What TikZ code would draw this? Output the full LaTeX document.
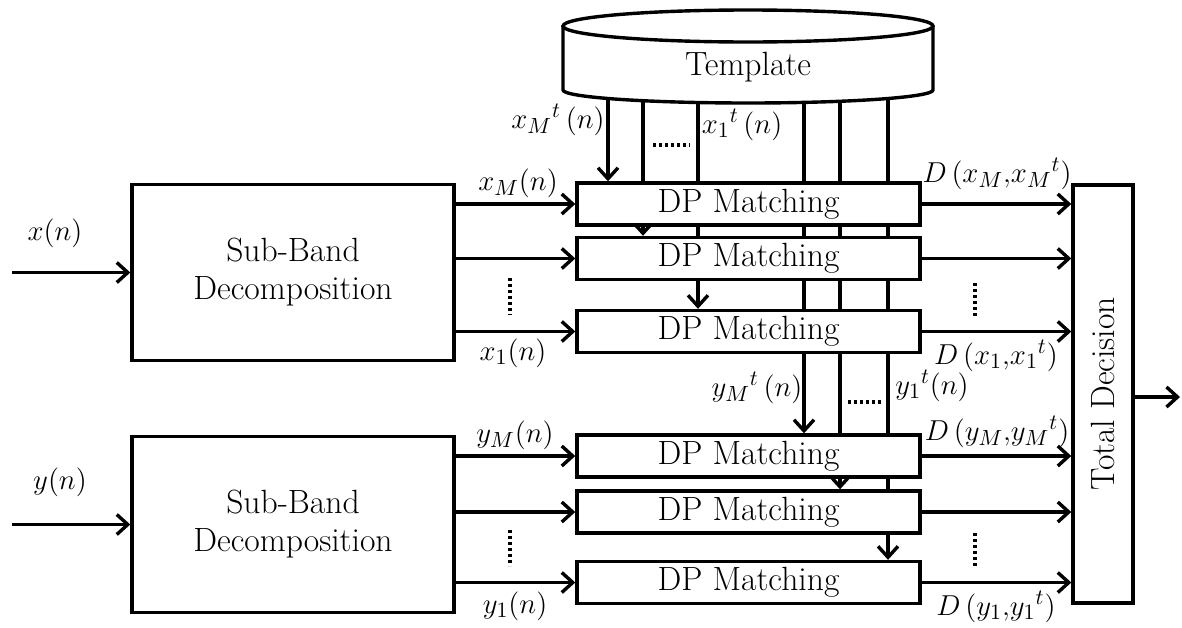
\documentclass[tikz,border=0pt]{standalone}
\usepackage{amsmath}
\usetikzlibrary{positioning,arrows.meta,backgrounds}

\begin{document}
\begin{tikzpicture}[x=0.5pt,y=0.5pt,
  every node/.style={font=\fontsize{16.8}{19}\selectfont},
  lbl/.style={font=\fontsize{15}{18}\selectfont,inner sep=1pt},
  blk/.style={draw,fill=white,line width=1.7pt,inner sep=0pt},
  dpbox/.style={blk,minimum width=171.5pt,minimum height=21pt},
  sbbox/.style={blk,minimum width=161pt,minimum height=88pt,align=center},
  sig/.style={line width=1.7pt,-{Straight Barb[length=5.5pt,width=10pt]}},
  dots/.style={line width=2pt,dash pattern=on 1.6pt off 1.4pt}]
\useasboundingbox (0,0) rectangle (1182,-627);

% template store
\draw[blk] (563,-26) -- (563,-90)
   arc[start angle=180,end angle=360,x radius=185,y radius=13] -- (933,-26);
\draw[blk] (748,-26) ellipse[x radius=185,y radius=16];
\node (tmpl) at (748,-67) {Template};

% blocks
\node[sbbox] (sb1) at (293,-272.5) {Sub-Band\\Decomposition};
\node[sbbox] (sb2) at (293,-524.5) {Sub-Band\\Decomposition};

\node[dpbox] (dp1) at (748.5,-204) {DP Matching};
\node[dpbox] (dp2) at (748.5,-258.5) {DP Matching};
\node[dpbox] (dp3) at (748.5,-331.5) {DP Matching};
\node[dpbox] (dp4) at (748.5,-456) {DP Matching};
\node[dpbox] (dp5) at (748.5,-512) {DP Matching};
\node[dpbox] (dp6) at (748.5,-582.5) {DP Matching};

\node[blk,minimum width=30pt,minimum height=209pt] (td) at (1103,-394) {};
\node[rotate=90] (tdtext) at (td.center) {Total Decision};

% template taps, behind the boxes
\coordinate (t1) at (608,-60);
\coordinate (t2) at (643,-60);
\coordinate (t3) at (698,-60);
\coordinate (t4) at (804,-60);
\coordinate (t5) at (840,-60);
\coordinate (t6) at (888,-60);
\begin{scope}[on background layer]
  \draw[sig] (t1) -- (t1 |- dp1.north);
  \draw[sig] (t2) -- (t2 |- dp2.north);
  \draw[sig] (t3) -- (t3 |- dp3.north);
  \draw[sig] (t4) -- (t4 |- dp4.north);
  \draw[sig] (t5) -- (t5 |- dp5.north);
  \draw[sig] (t6) -- (t6 |- dp6.north);
\end{scope}

% inputs
\coordinate (xin) at (12,-272.5);
\coordinate (yin) at (12,-524.5);
\draw[sig] (xin) -- (sb1.west);
\draw[sig] (yin) -- (sb2.west);

% sub-bands
\draw[sig] (sb1.east |- dp1.west) -- (dp1.west);
\draw[sig] (sb1.east |- dp2.west) -- (dp2.west);
\draw[sig] (sb1.east |- dp3.west) -- (dp3.west);
\draw[sig] (sb2.east |- dp4.west) -- (dp4.west);
\draw[sig] (sb2.east |- dp5.west) -- (dp5.west);
\draw[sig] (sb2.east |- dp6.west) -- (dp6.west);

% distances
\draw[sig] (dp1.east) -- (dp1.east -| td.west);
\draw[sig] (dp2.east) -- (dp2.east -| td.west);
\draw[sig] (dp3.east) -- (dp3.east -| td.west);
\draw[sig] (dp4.east) -- (dp4.east -| td.west);
\draw[sig] (dp5.east) -- (dp5.east -| td.west);
\draw[sig] (dp6.east) -- (dp6.east -| td.west);

\coordinate (out) at (1180,-397);
\draw[sig] (td.east |- out) -- (out);

% dots
\draw[dots] (510,-278) -- (510,-315);
\draw[dots] (510,-530) -- (510,-566);
\draw[dots] (975,-283) -- (975,-318);
\draw[dots] (975,-533) -- (975,-568);
\draw[dots] (653,-145) -- (690,-145);
\draw[dots] (848,-402) -- (882,-402);

% labels
\node[lbl] (lx) at (55,-233) {$x(n)$};
\node[lbl] (ly) at (60,-482) {$y(n)$};
\node[lbl] (lxM) at (518,-183) {$x_M(n)$};
\node[lbl] (lx1) at (513,-353) {$x_1(n)$};
\node[lbl] (lyM) at (515,-435) {$y_M(n)$};
\node[lbl] (ly1) at (515,-606) {$y_1(n)$};
\node[lbl] (ltxM) at (558,-120) {$x_M{}^t\,(n)$};
\node[lbl] (ltx1) at (742,-125) {$x_1{}^t\,(n)$};
\node[lbl] (ltyM) at (757,-388) {$y_M{}^t\,(n)$};
\node[lbl] (lty1) at (932,-386) {$y_1{}^t(n)$};
\node[lbl] (dxM) at (997,-174) {$D\,(x_M{,}x_M{}^t)$};
\node[lbl] (dx1) at (996,-356) {$D\,(x_1{,}x_1{}^t)$};
\node[lbl] (dyM) at (997,-432) {$D\,(y_M{,}y_M{}^t)$};
\node[lbl] (dy1) at (996,-607) {$D\,(y_1{,}y_1{}^t)$};
\end{tikzpicture}
\end{document}
